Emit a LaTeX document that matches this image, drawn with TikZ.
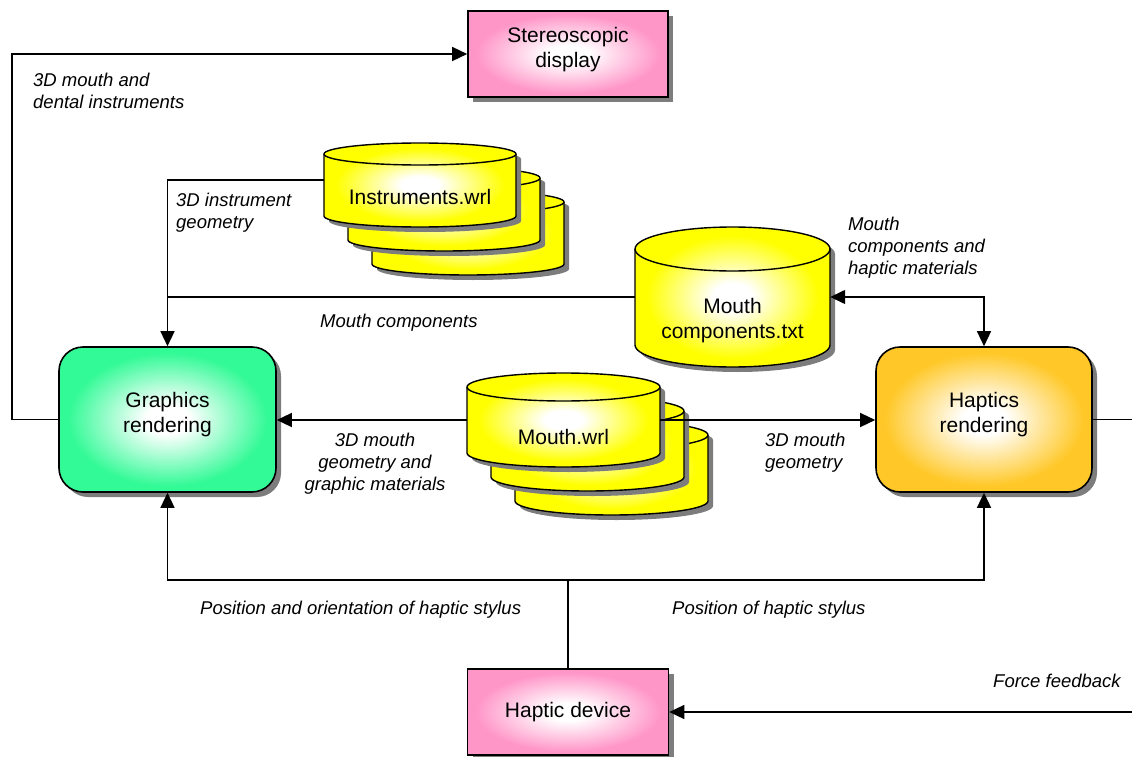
\documentclass[tikz,border=0pt]{standalone}
\usepackage{fontspec}
\setmainfont{Liberation Sans}
\usetikzlibrary{arrows.meta,shadows}

\definecolor{pinkc}{RGB}{255,150,200}
\definecolor{greenc}{RGB}{50,250,150}
\definecolor{orangec}{RGB}{255,200,40}
\definecolor{yellowc}{RGB}{255,255,0}
\definecolor{shadowc}{RGB}{125,125,125}

\pgfdeclareradialshading{glowpink}{\pgfpoint{0bp}{0bp}}{color(0bp)=(white); color(5bp)=(white); color(23bp)=(pinkc); color(50bp)=(pinkc)}
\pgfdeclareradialshading{glowgreen}{\pgfpoint{0bp}{0bp}}{color(0bp)=(white); color(5bp)=(white); color(23bp)=(greenc); color(50bp)=(greenc)}
\pgfdeclareradialshading{gloworange}{\pgfpoint{0bp}{0bp}}{color(0bp)=(white); color(5bp)=(white); color(23bp)=(orangec); color(50bp)=(orangec)}
\pgfdeclareradialshading{glowyellow}{\pgfpoint{0bp}{0bp}}{color(0bp)=(white); color(5bp)=(white); color(22bp)=(yellowc); color(50bp)=(yellowc)}

\tikzset{
  shad/.style={drop shadow={shadow xshift=5pt,shadow yshift=-5pt,fill=shadowc,opacity=1}},
  boxtext/.style={font=\fontsize{21}{25}\selectfont, align=center, text=black},
  lbl/.style={font=\fontsize{18.5}{22}\selectfont\itshape, inner sep=0pt, align=left},
  sbox/.style={draw=black, line width=1.6pt, shad, boxtext, inner sep=0pt},
  twoline/.style={text depth=14pt},
  conn/.style={line width=1.4pt},
  tip/.tip={Triangle[length=15pt,width=14pt]},
  arr/.style={conn, -tip},
  cylline/.style={draw=black, line width=1.4pt},
}

% #1 L, #2 T, #3 R, #4 B, #5 ry, #6 name
\newcommand\dbcyl[6]{%
  \pgfmathsetmacro\cylrx{(#3-#1)/2}%
  \path[cylline, shad, shade, shading=glowyellow]
    (#1,#2+#5) -- (#1,#4-#5)
    arc[start angle=180,end angle=0,x radius=\cylrx,y radius=#5]
    -- (#3,#2+#5)
    arc[start angle=0,end angle=-180,x radius=\cylrx,y radius=#5] -- cycle;
  \draw[cylline] (#1,#2+#5) arc[start angle=180,end angle=0,x radius=\cylrx,y radius=#5];
  \node[inner sep=0pt, minimum width={(#3-#1)*1pt}, minimum height={(#4-#2)*1pt}] (#6) at ({(#1+#3)/2},{(#2+#4)/2}) {};
}

\begin{document}
\begin{tikzpicture}[x=1pt,y=-1pt]
\useasboundingbox (0,0) rectangle (1132,757);

% boxes
\node[sbox, twoline, shade, shading=glowpink, minimum width=200pt, minimum height=86pt] (stereo) at (568,54) {Stereoscopic\\display};
\node[sbox, twoline, shade, shading=glowgreen, rounded corners=24pt, minimum width=217pt, minimum height=145pt] (gfx) at (167.5,419.5) {Graphics\\rendering};
\node[sbox, twoline, shade, shading=gloworange, rounded corners=24pt, minimum width=216pt, minimum height=145pt] (hap) at (984,419.5) {Haptics\\rendering};
\node[sbox, shade, shading=glowpink, minimum width=201pt, minimum height=86pt] (dev) at (568,712) {Haptic device};

% cylinders
\dbcyl{372}{191}{564}{275}{11}{instrC}
\dbcyl{348}{167}{540}{251}{11}{instrB}
\dbcyl{324}{143}{516}{227}{11}{instr}
\node[boxtext] (instrtxt) at (420,197) {Instruments.wrl};

\dbcyl{515}{421}{708}{515}{14}{mwrlC}
\dbcyl{491}{397}{684}{491}{14}{mwrlB}
\dbcyl{467}{373}{660}{467}{14}{mwrl}
\node[boxtext] (mwrltxt) at (563.5,437) {Mouth.wrl};

\dbcyl{635}{227}{830}{367}{22}{mct}
\node[boxtext] (mcttxt) at (732.5,321) {Mouth\\components.txt};

% connectors
\coordinate (lc) at (12,419.5);
\draw[arr] (gfx.west) -- (lc) |- (stereo.west);
\draw[arr] ([yshift=5pt]instr.west) -| (gfx.north);
\draw[conn] (mct.west) -- (gfx.north |- mct.west);
\draw[conn, tip-tip] (mct.east) -| (hap.north);
\draw[arr] (mwrl.west) -- (mwrl.west -| gfx.east);
\draw[arr] (mwrl.east) -- (mwrl.east -| hap.west);

\coordinate (jdev) at (568,580);
\draw[conn] (dev.north) -- (jdev);
\draw[arr] (jdev) -| (gfx.south);
\draw[arr] (jdev) -| (hap.south);

\coordinate (fbA) at (1132,419.5);
\coordinate (fbB) at (1132,712);
\draw[conn] (hap.east) -- (fbA);
\draw[arr] (fbB) -- (dev.east);

% labels
\node[lbl, anchor=north west] (l1) at (33,73) {3D mouth and\\dental instruments};
\node[lbl, anchor=north west] (l2) at (176,193) {3D instrument\\geometry};
\node[lbl, anchor=base west] (l3) at (320,327) {Mouth components};
\node[lbl, anchor=north west] (l4) at (848,217) {Mouth\\components and\\haptic materials};
\node[lbl, anchor=north, align=center] (l5) at (375,433) {3D mouth\\geometry and\\graphic materials};
\node[lbl, anchor=north west] (l6) at (765,433) {3D mouth\\geometry};
\node[lbl, anchor=base west] (l7) at (200,614) {Position and orientation of haptic stylus};
\node[lbl, anchor=base west] (l8) at (672,614) {Position of haptic stylus};
\node[lbl, anchor=base west] (l9) at (993,687) {Force feedback};
\end{tikzpicture}
\end{document}
